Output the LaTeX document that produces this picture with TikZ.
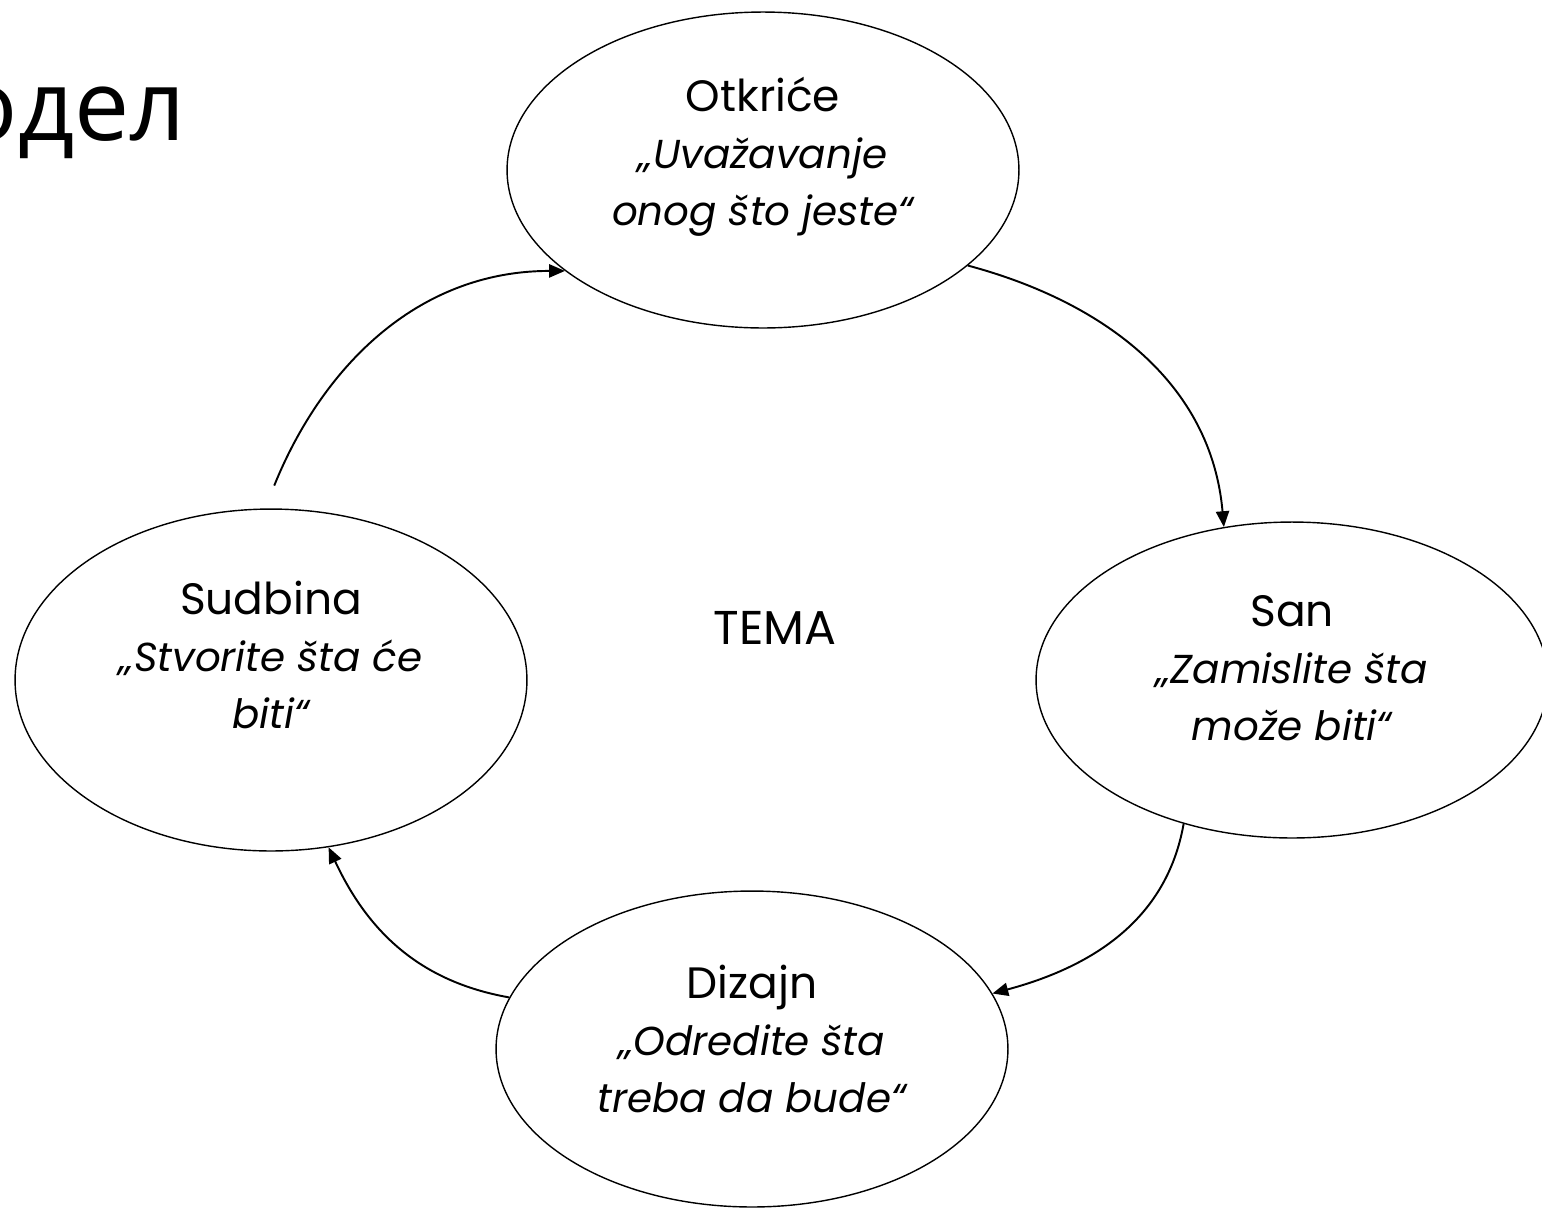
\documentclass[tikz,border=0pt]{standalone}
\usepackage{fontspec}
\setmainfont{Poppins}
\newfontfamily\titlefont{Open Sans}
\usetikzlibrary{shapes.geometric,arrows.meta}

\newcommand{\quoteline}[1]{{\fontsize{23}{32.4}\selectfont\itshape #1}}

\begin{document}
\begin{tikzpicture}[x=0.02cm,y=-0.02cm]
  \tikzstyle{stage} = [ellipse, draw, line width=0.8pt, inner sep=0pt, minimum width=10.24cm, minimum height=6.32cm];
  \tikzstyle{stagetext} = [align=center, inner sep=0pt, font=\fontsize{25}{32.4}\selectfont];
  \tikzstyle{flow} = [-{Triangle[length=9pt,width=7.5pt]}, line width=1.1pt];

  \useasboundingbox (0,0) rectangle (1542,1208);

  \node[anchor=base east, inner sep=0pt, font=\titlefont\fontsize{56}{66}\selectfont] (title) at (186,140) {одел};

  \node[stage] (otk) at (763,170) {};
  \node[stage] (san) at (1292,680) {};
  \node[stage] (diz) at (752,1049) {};
  \node[stage, minimum height=6.84cm] (sud) at (271,680) {};

  \node[stagetext] (otkT) at ([yshift=0.26cm]otk.center) {Otkriće\\ \quoteline{„Uvažavanje}\\ \quoteline{onog što jeste“}};
  \node[stagetext] (sanT) at ([yshift=0.24cm]san.center) {San\\ \quoteline{„Zamislite šta}\\ \quoteline{može biti“}};
  \node[stagetext] (dizT) at ([yshift=0.2cm]diz.center) {Dizajn\\ \quoteline{„Odredite šta}\\ \quoteline{treba da bude“}};
  \node[stagetext] (sudT) at ([yshift=0.5cm]sud.center) {Sudbina\\ \quoteline{„Stvorite šta će}\\ \quoteline{biti“}};

  \node[stagetext, font=\fontsize{27}{32}\selectfont] (tema) at (775,628) {TEMA};

  \draw[flow] (otk.-25) to[out=-15, in=95] (san.114);
  \draw[flow] (san.-127) to[out=-100, in=15] (diz.13);
  \draw[flow] (diz.168) to[out=170, in=-65] (sud.-71);
  \draw[flow, shorten <=14pt] (sud.92) to[out=68, in=180] (otk.207);

\end{tikzpicture}
\end{document}
